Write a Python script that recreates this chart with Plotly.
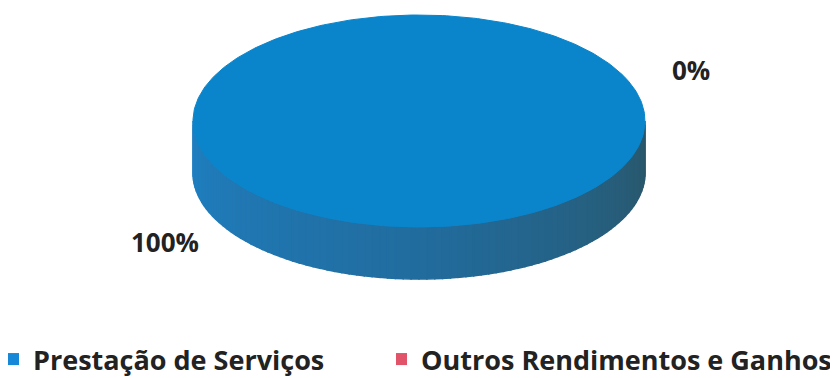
import numpy as np
import plotly.graph_objects as go

# ---- data ----
categories = ["Prestação de Serviços", "Outros Rendimentos e Ganhos"]
values = [100, 0]
slice_colors = ["#0a85cb", "#e05368"]
legend_colors = ["#1788d8", "#e05368"]

# ---- geometry of the 3D pie (screen-pixel space) ----
W, H = 838, 378
OFF = 8    # browser body margin
EXTRA = 6  # figure extends a bit below the window
cx, cy, rx, ry, depth = 419, 121, 226, 106, 52
start_deg = 22.0  # angle where first slice starts, slices run clockwise

def hex2rgb(h):
    h = h.lstrip("#")
    return np.array([int(h[i:i + 2], 16) for i in (0, 2, 4)], dtype=float)

side_stops = [(180, hex2rgb("#1f80c2")), (270, hex2rgb("#216c9e")), (360, hex2rgb("#2a5668"))]

def side_color(deg):
    d = deg % 360
    if d < 180:
        d = 180 if d < 90 else 360
    for (a0, c0), (a1, c1) in zip(side_stops[:-1], side_stops[1:]):
        if a0 <= d <= a1:
            t = (d - a0) / (a1 - a0)
            c = c0 + (c1 - c0) * t
            return "rgb(%d,%d,%d)" % tuple(c.round())
    return "rgb(42,86,104)"

def pt(deg, dy=0.0):
    r = np.radians(deg)
    return cx + rx * np.cos(r), cy - ry * np.sin(r) + dy

fig = go.Figure()
total = float(sum(values))
angle = start_deg
side_traces, top_traces, label_info = [], [], []
for cat, v, col in zip(categories, values, slice_colors):
    frac = v / total
    a0, a1 = angle, angle - 360 * frac
    angle = a1
    mid = (a0 + a1) / 2
    label_info.append((cat, v, mid))
    if frac <= 0:
        continue
    arc = np.linspace(a0, a1, max(int(abs(a0 - a1)), 2) + 1)
    xs, ys = zip(*[pt(a) for a in arc])
    if frac < 1:
        xs = (cx,) + xs + (cx,)
        ys = (cy,) + ys + (cy,)
    top_traces.append(go.Scatter(x=list(xs), y=list(ys), mode="lines", fill="toself",
                                 fillcolor=col, line=dict(color=col, width=1),
                                 hoverinfo="skip", showlegend=False))
    step = 2.0
    lo, hi = min(a0, a1), max(a0, a1)
    a = lo
    while a < hi:
        b = min(a + step, hi)
        m = ((a + b) / 2) % 360
        if 180 <= m <= 360:
            p1, p2 = pt(a), pt(b)
            q2, q1 = pt(b, depth), pt(a, depth)
            sc = side_color(m)
            side_traces.append(go.Scatter(
                x=[p1[0], p2[0], q2[0], q1[0], p1[0]],
                y=[p1[1], p2[1], q2[1], q1[1], p1[1]],
                mode="lines", fill="toself", fillcolor=sc,
                line=dict(color=sc, width=1.5), hoverinfo="skip", showlegend=False))
        a = b

for t in side_traces + top_traces:
    fig.add_trace(t)

legend_ids = ["legend", "legend2"]
for cat, lc, lid in zip(categories, legend_colors, legend_ids):
    fig.add_trace(go.Scatter(x=[None], y=[None], mode="markers", name="<b>%s</b>" % cat,
                             legend=lid,
                             marker=dict(symbol="square", size=12, color=lc)))

label_pos = {categories[0]: (165, 242), categories[1]: (691, 70)}
for cat, v, mid in label_info:
    x, y = label_pos[cat]
    fig.add_annotation(x=x, y=y, text="<b>%d%%</b>" % round(100 * v / total), showarrow=False,
                       font=dict(family="Open Sans", size=26, color="#222222"),
                       xanchor="center", yanchor="middle")

legend_style = dict(orientation="h", y=0, xanchor="left", yanchor="bottom",
                    font=dict(family="Open Sans", size=27, color="#222222"),
                    itemwidth=30, indentation=-15, bgcolor="rgba(0,0,0,0)")

fig.update_layout(
    width=W - OFF, height=H - OFF + EXTRA,
    margin=dict(l=0, r=0, t=0, b=0),
    paper_bgcolor="white", plot_bgcolor="white",
    xaxis=dict(range=[OFF, W], visible=False, fixedrange=True),
    yaxis=dict(range=[H + EXTRA, OFF], visible=False, fixedrange=True),
    font=dict(family="Open Sans", color="#222222"),
    legend=dict(x=0, **legend_style),
    legend2=dict(x=0.4675, **legend_style),
    showlegend=True,
)

fig.write_html("out.html")
